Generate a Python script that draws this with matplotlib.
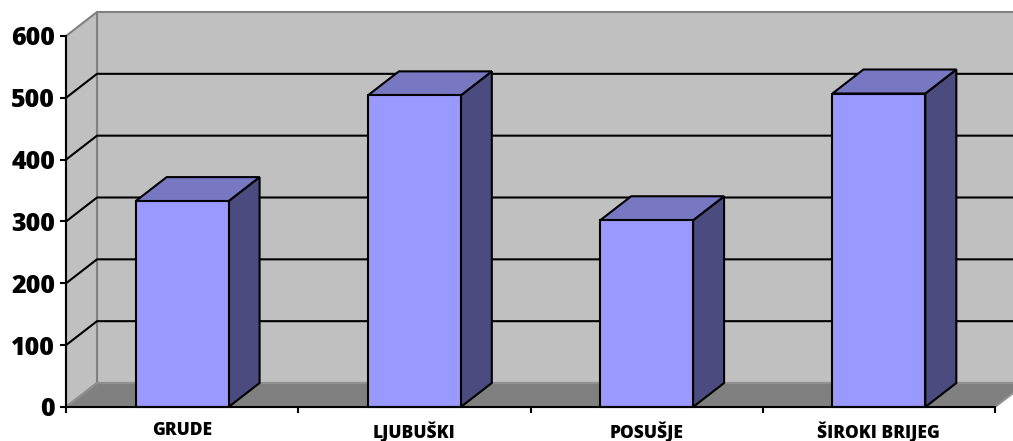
import matplotlib.pyplot as plt
from matplotlib.patches import Polygon
from matplotlib.lines import Line2D
from matplotlib.transforms import IdentityTransform

plt.rcParams['font.family'] = ['Open Sans', 'DejaVu Sans']

categories = ['GRUDE', 'LJUBUŠKI', 'POSUŠJE', 'ŠIROKI BRIJEG']
values = [333, 504, 302, 507]
yticks = [0, 100, 200, 300, 400, 500, 600]

# depth of the 3d box, in pixels (dpi is fixed at 100)
DX, DY = 31, 24
BAR_W = 0.4

fig = plt.figure(figsize=(10.13, 4.41), dpi=100)
ax = fig.add_axes([66 / 1013, 34 / 441, 929 / 1013, 371 / 441])
ax.set_xlim(-0.5, len(categories) - 0.5)
ax.set_ylim(0, 600)
ax.patch.set_visible(False)


def proj(x, y, d):
    px, py = ax.transData.transform((x, y))
    return (px + d * DX, py + d * DY)


def face(pts, fc, ec, lw=1.5, z=1):
    ax.add_patch(Polygon(pts, closed=True, facecolor=fc, edgecolor=ec, linewidth=lw,
                         transform=IdentityTransform(), clip_on=False, zorder=z,
                         joinstyle='miter'))


x0, x1 = -0.5, len(categories) - 0.5
# walls and floor
face([proj(x0, 0, 1), proj(x1, 0, 1), proj(x1, 600, 1), proj(x0, 600, 1)], '#C0C0C0', '#808080', z=0.5)
face([proj(x0, 0, 0), proj(x0, 0, 1), proj(x0, 600, 1), proj(x0, 600, 0)], '#C0C0C0', '#808080', z=0.6)
face([proj(x0, 0, 0), proj(x1, 0, 0), proj(x1, 0, 1), proj(x0, 0, 1)], '#808080', '#909090', z=0.7)

# gridlines on side and back walls
for v in yticks[1:-1]:
    pts = [proj(x0, v, 0), proj(x0, v, 1), proj(x1, v, 1)]
    ax.add_line(Line2D([p[0] for p in pts], [p[1] for p in pts], color='black', lw=1.5,
                       transform=IdentityTransform(), clip_on=False, zorder=1))

# bars
for i, v in enumerate(values):
    l, r = i - BAR_W / 2, i + BAR_W / 2
    face([proj(r, 0, 0), proj(r, 0, 1), proj(r, v, 1), proj(r, v, 0)], '#4B4B80', 'black', z=3)
    face([proj(l, v, 0), proj(r, v, 0), proj(r, v, 1), proj(l, v, 1)], '#7777C2', 'black', z=3)
    face([proj(l, 0, 0), proj(r, 0, 0), proj(r, v, 0), proj(l, v, 0)], '#9999FF', 'black', z=3)

for s in ['top', 'right']:
    ax.spines[s].set_visible(False)
for s in ['left', 'bottom']:
    ax.spines[s].set_linewidth(1.5)
    ax.spines[s].set_zorder(4)

ax.set_yticks(yticks)
ax.set_yticklabels([str(t) for t in yticks], fontsize=18, fontweight='heavy')
ax.tick_params(axis='y', length=4.3, width=1.5, pad=3.6)

ax.set_xticks(range(len(categories)))
ax.set_xticklabels(categories, fontsize=12.5, fontweight='heavy')
ax.set_xticks([k - 0.5 for k in range(len(categories) + 1)], minor=True)
ax.tick_params(axis='x', which='major', length=0, pad=10.5)
ax.tick_params(axis='x', which='minor', length=4.3, width=1.5)

fig.savefig('out.png', dpi=100)
